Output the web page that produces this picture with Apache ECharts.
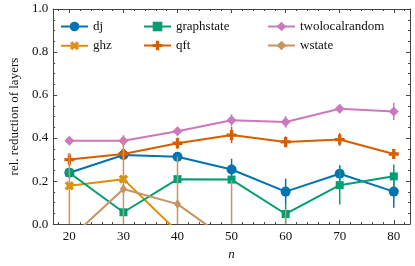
<!DOCTYPE html>
<html>
<head>
<meta charset="utf-8">
<script src="https://cdn.jsdelivr.net/npm/echarts@6/dist/echarts.min.js"></script>
<style>html,body{margin:0;padding:0;background:#fff}#c{width:415px;height:266px}</style>
</head>
<body>
<div id="c"></div>
<script>
var nValues = [20, 30, 40, 50, 60, 70, 80];
var seriesNames = ['dj', 'ghz', 'graphstate', 'qft', 'twolocalrandom', 'wstate'];
var djVals = [0.239, 0.321, 0.313, 0.254, 0.151, 0.234, 0.151];
var djErr = [0.012, 0.012, 0.012, 0.05, 0.06, 0.04, 0.075];
var ghzVals = [0.178, 0.209, -0.035, -0.25, -0.3, -0.3, -0.3];
var ghzErr = [0.012, 0.015, 0.01, 0.01, 0.01, 0.01, 0.01];
var graphVals = [0.239, 0.055, 0.209, 0.207, 0.047, 0.181, 0.222];
var graphErr = [0.01, 0.01, 0.01, 0.01, 0.045, 0.09, 0.055];
var qftVals = [0.300, 0.326, 0.376, 0.414, 0.382, 0.393, 0.326];
var qftErr = [0.03, 0.015, 0.026, 0.038, 0.026, 0.03, 0.02];
var twoVals = [0.387, 0.387, 0.432, 0.483, 0.475, 0.536, 0.524];
var twoErr = [0.01, 0.025, 0.012, 0.028, 0.027, 0.02, 0.04];
var wVals = [-0.069, 0.163, 0.093, -0.086, -0.2, -0.3, -0.3];
var wErr = [0.40, 0.25, 0.22, 0.29, 0.27, 0.05, 0.05];
var xMajorTicks = [20, 30, 40, 50, 60, 70, 80];
var xMinorTicks = [18, 22, 24, 26, 28, 32, 34, 36, 38, 42, 44, 46, 48, 52, 54, 56, 58, 62, 64, 66, 68, 72, 74, 76, 78, 82];

var colors = ['#0173b2', '#de8f05', '#029e73', '#d55e00', '#cc78bc', '#ca9161'];
var plusPath = 'path://M-1,-3L1,-3L1,-1L3,-1L3,1L1,1L1,3L-1,3L-1,1L-3,1L-3,-1L-1,-1Z';
var symbols = ['circle', plusPath, 'rect', plusPath, 'diamond', 'path://M0,-1L0.62,0L0,1L-0.62,0Z'];
var symSizes = [10, 10, 8, 10, 10, [7, 10]];
var symRot = [0, 45, 0, 0, 0, 0];
var valsList = [djVals, ghzVals, graphVals, qftVals, twoVals, wVals];
var errList = [djErr, ghzErr, graphErr, qftErr, twoErr, wErr];

var FONT = 'Liberation Serif';
var AX = '#444';

function errSeries(i) {
  var data = nValues.map(function (x, k) { return [x, valsList[i][k], errList[i][k]]; });
  return {
    type: 'custom', name: seriesNames[i] + '_err', data: data, z: 2 + i * 2,
    silent: true,
    renderItem: function (params, api) {
      var x = api.value(0), y = api.value(1), e = api.value(2);
      var lo = Math.max(0, Math.min(1, y - e)), hi = Math.max(0, Math.min(1, y + e));
      if (hi <= lo) return null;
      var p1 = api.coord([x, lo]), p2 = api.coord([x, hi]);
      return { type: 'line', shape: { x1: p1[0], y1: p1[1], x2: p2[0], y2: p2[1] },
        style: { stroke: colors[i], lineWidth: 1.5 } };
    }
  };
}
function lineSeries(i) {
  return {
    type: 'line', name: seriesNames[i], z: 3 + i * 2,
    data: nValues.map(function (x, k) { return [x, valsList[i][k]]; }),
    symbol: symbols[i], symbolSize: symSizes[i], symbolRotate: symRot[i],
    showAllSymbol: true, clip: true,
    lineStyle: { color: colors[i], width: 2 },
    itemStyle: { color: colors[i] },
    emphasis: { disabled: true }, animation: false
  };
}
var series = [];
for (var i = 0; i < 6; i++) { series.push(errSeries(i)); series.push(lineSeries(i)); }

function legendAt(left, names) {
  return { orient: 'vertical', left: left, top: 15, itemWidth: 27, itemHeight: 12, itemGap: 6,
    data: names, textStyle: { fontFamily: FONT, fontSize: 13, color: '#111' } };
}
var common = { min: 17, max: 83, type: 'value', splitLine: { show: false } };
var chart = echarts.init(document.getElementById('c'), null, { renderer: 'canvas' });
chart.setOption({
  animation: false,
  color: colors,
  legend: [legendAt(55, ['dj', 'ghz']), legendAt(138, ['graphstate', 'qft']), legendAt(262, ['twolocalrandom', 'wstate'])],
  grid: { left: 43, right: 5, top: 9, bottom: 38, containLabel: false },
  xAxis: [
    Object.assign({}, common, { position: 'bottom', name: 'n', nameLocation: 'middle', nameGap: 21,
      nameTextStyle: { fontFamily: FONT, fontStyle: 'italic', fontSize: 13, color: '#111' },
      axisLine: { show: true, lineStyle: { color: AX, width: 1 } },
      axisTick: { inside: true, length: 4, customValues: xMajorTicks, lineStyle: { color: AX } },
      axisLabel: { customValues: xMajorTicks, fontFamily: FONT, fontSize: 13, color: '#111', margin: 6 } }),
    Object.assign({}, common, { position: 'bottom', axisLine: { show: false },
      axisTick: { inside: true, length: 2, customValues: xMinorTicks, lineStyle: { color: AX } },
      axisLabel: { show: false } }),
    Object.assign({}, common, { position: 'top', axisLine: { show: true, lineStyle: { color: AX, width: 1 } },
      axisTick: { inside: true, length: 4, customValues: xMajorTicks, lineStyle: { color: AX } },
      axisLabel: { show: false } }),
    Object.assign({}, common, { position: 'top', axisLine: { show: false },
      axisTick: { inside: true, length: 2, customValues: xMinorTicks, lineStyle: { color: AX } },
      axisLabel: { show: false } })
  ],
  yAxis: [
    { type: 'value', min: 0, max: 1, interval: 0.2, position: 'left', splitLine: { show: false },
      name: 'rel. reduction of layers', nameLocation: 'middle', nameGap: 26,
      nameTextStyle: { fontFamily: FONT, fontSize: 13, color: '#111' },
      axisLine: { show: true, lineStyle: { color: AX, width: 1 } },
      axisTick: { inside: true, length: 4, lineStyle: { color: AX } },
      minorTick: { show: true, splitNumber: 4, length: 2, lineStyle: { color: AX } },
      axisLabel: { fontFamily: FONT, fontSize: 13, color: '#111', margin: 5, formatter: function (v) { return v.toFixed(1); } } },
    { type: 'value', min: 0, max: 1, interval: 0.2, position: 'right', splitLine: { show: false },
      axisLine: { show: true, lineStyle: { color: AX, width: 1 } },
      axisTick: { inside: true, length: 4, lineStyle: { color: AX } },
      minorTick: { show: true, splitNumber: 4, length: 2, lineStyle: { color: AX } },
      axisLabel: { show: false } }
  ],
  series: series
});
</script>
</body>
</html>
